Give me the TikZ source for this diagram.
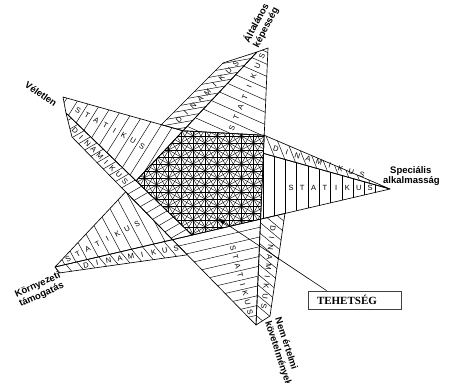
\documentclass[tikz,border=0pt]{standalone}
\usepackage{fontspec}
\setmainfont{Liberation Sans}
\newfontfamily\tehfont{Liberation Serif}
\usetikzlibrary{calc, arrows.meta}

\newcommand{\starband}[7]{%
  \begin{scope}
    \clip #1;
    \foreach \i in {-6,...,20}
      \draw[rung] ($(#2)!{(\i-0.5)/#5}!(#3)$) ++(#7:-200) -- ++(#7:400);
  \end{scope}
  \draw[edge] #1;
  \foreach \c [count=\j from 0] in {#4}
    \node[lett, rotate=#6] at ($(#2)!{\j/#5}!(#3)$) {\c};
}

\begin{document}
\begin{tikzpicture}[x=1pt, y=-1pt,
    edge/.style={line width=0.65pt, line join=round},
    rung/.style={line width=0.45pt},
    mesh/.style={line width=0.4pt},
    lett/.style={font=\fontsize{7.5}{8}\selectfont, inner sep=0pt},
    lbl/.style={font=\fontsize{9.5}{10.5}\selectfont\bfseries, align=left, inner sep=0pt},
    ptr/.style={line width=0.6pt, -{Triangle[length=6pt, width=5pt]}}
  ]
  \useasboundingbox[fill=white] (0,0) rectangle (450,383);
  \coordinate (T)  at (268,48);
  \coordinate (Te) at (257,52);
  \coordinate (Td) at (223,63);
  \coordinate (R)  at (390,189);
  \coordinate (Bo) at (256,325);
  \coordinate (Bd) at (270,316);
  \coordinate (Bm) at (285,213);
  \coordinate (K)  at (55,267);
  \coordinate (Kd) at (59,273);
  \coordinate (Kh) at (200,253);
  \coordinate (V)  at (63,97);
  \coordinate (Vd) at (66,113);
  \coordinate (Vc) at (72,137);
  \coordinate (Dl) at (193,236);
  \coordinate (Jl) at (160,126);
  \coordinate (G)  at ($(T)!0.315!(Bo)$);
  \coordinate (EF) at (intersection of K--Te and V--R);
  \coordinate (AF) at (intersection of T--Bo and V--R);
  \coordinate (AB) at (intersection of T--Bo and R--K);
  \coordinate (BC) at (intersection of R--K and Vc--Bo);
  \coordinate (CE) at (intersection of Vc--Bo and K--Te);
  \coordinate (DE) at (intersection of Vd--Dl and K--Te);
  \coordinate (DB) at (intersection of Vd--Dl and R--K);
  \coordinate (JF) at (intersection of Td--Jl and V--R);
  \coordinate (HC) at (intersection of Kd--Kh and Vc--Bo);
  \coordinate (MB) at (intersection of Bm--Bd and R--K);

  \begin{scope}
    \clip (EF) -- (G) -- (AB) -- (DB) -- (DE) -- cycle;
    \foreach \a/\s in {0/7, 60/7, 120/7, 30/12.12, 90/12.12, 150/12.12}
      \foreach \k in {-14,...,14}
        \draw[mesh] ($(205,185)+({\a+90}:{\k*\s})$) ++(\a:-120) -- ++(\a:240);
  \end{scope}
  \draw[edge] (EF) -- (G) -- (AB) -- (DB) -- (DE) -- cycle;

  \starband{(Te) -- (T) -- (G) -- (EF) -- cycle}{232,128}{262,56}{S,T,A,T,I,K,U,S}{7}{67}{24}
  \starband{(Td) -- (Te) -- (EF) -- (JF) -- cycle}{179,120}{236,64}{D,I,N,A,M,I,K,U,S}{8}{44}{-10}
  \starband{(G) -- (R) -- (AF) -- cycle}{276,149}{362,175}{D,I,N,A,M,I,K,U,S}{8}{-17}{68}
  \starband{(AF) -- (R) -- (AB) -- cycle}{291,188}{370,188}{S,T,A,T,I,K,U,S}{7}{0}{90}
  \starband{(AB) -- (Bo) -- (BC) -- cycle}{233,248}{250,312}{S,T,A,T,I,K,U,S}{7}{-75}{-13}
  \starband{(AB) -- (MB) -- (Bd) -- (Bo) -- cycle}{273,228}{264,306}{D,I,N,A,M,I,K,U,S}{8}{-96}{40}
  \starband{(K) -- (CE) -- (BC) -- cycle}{68,259}{137,224}{S,T,A,T,I,K,U,S}{7}{28}{62}
  \starband{(K) -- (BC) -- (HC) -- (Kd) -- cycle}{86,265}{176,248}{D,I,N,A,M,I,K,U,S}{8}{11}{50}
  \starband{(V) -- (EF) -- (DE) -- (Vd) -- cycle}{78,110}{142,146}{S,T,A,T,I,K,U,S}{7}{-29}{-58}
  \starband{(Vd) -- (DB) -- (BC) -- (Vc) -- cycle}{75,131}{125,181}{D,I,N,A,M,I,K,U,S}{8}{-45}{-30}

  \node[lbl, rotate=-35] (vel) at (41,94) {Véletlen};
  \node[lbl, rotate=62] (alt) at (261,25) {Általános\\képesség};
  \node[lbl, anchor=north west] (spe) at (383,166) {\hspace*{7pt}Speciális\\alkalmasság};
  \node[lbl, rotate=24] (kor) at (40,290) {Környezeti\\támogatás};
  \node[lbl, rotate=-72] (nem) at (283,352) {Nem értelmi\\követelmények};
  \node[draw=black!75, line width=0.8pt, font=\tehfont\bfseries\fontsize{11}{12}\selectfont,
        text width=75pt, inner xsep=9pt, minimum height=18pt, align=left] (teh) at (354.5,300) {TEHETSÉG};
  \coordinate (arr) at (219,219);
  \draw[ptr] ($(teh.north west)+(19,0)$) -- (arr);
\end{tikzpicture}
\end{document}
